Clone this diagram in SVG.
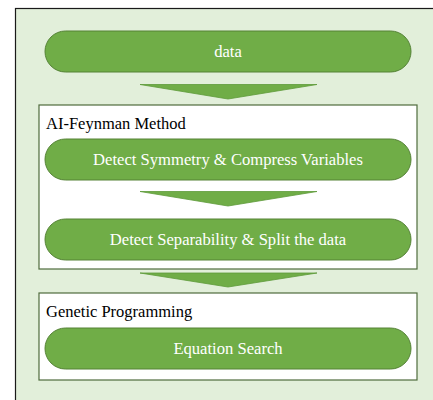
<svg xmlns="http://www.w3.org/2000/svg" width="433" height="400" viewBox="0 0 433 400">
<style>
.pill{fill:#70ad47;stroke:#548235;stroke-width:1}
.ptext{fill:#ffffff;font-family:"Liberation Serif",serif;font-size:16.6px;text-anchor:middle}
.box{fill:#ffffff;stroke:#4f6b3c;stroke-width:1.2}
.title{fill:#000000;font-family:"Liberation Serif",serif;font-size:16.5px}
.arrow{fill:#70ad47;stroke:#5e9a3a;stroke-width:0.8}
</style>
<rect x="15.5" y="8.5" width="430" height="400" fill="#e2efda" stroke="#1a1a1a" stroke-width="1.2"/>
<g id="data">
<rect class="pill" x="45" y="31" width="366" height="41" rx="20.5"/>
<text class="ptext" x="228" y="57">data</text>
</g>
<g id="ai-feynman">
<rect class="box" x="39" y="105" width="378" height="164"/>
<text class="title" x="46" y="129">AI-Feynman Method</text>
</g>
<g id="symmetry">
<rect class="pill" x="45" y="139" width="366" height="41" rx="20.5"/>
<text class="ptext" x="228" y="165">Detect Symmetry &amp; Compress Variables</text>
</g>
<g id="separability">
<rect class="pill" x="45" y="219" width="366" height="41" rx="20.5"/>
<text class="ptext" x="228" y="245">Detect Separability &amp; Split the data</text>
</g>
<g id="genetic">
<rect class="box" x="39" y="293" width="378" height="87"/>
<text class="title" x="46" y="317">Genetic Programming</text>
</g>
<g id="equation">
<rect class="pill" x="45" y="328" width="366" height="41" rx="20.5"/>
<text class="ptext" x="228" y="354">Equation Search</text>
</g>
<g id="connectors">
<polygon class="arrow" points="140,84.5 317,84.5 228,99"/>
<polygon class="arrow" points="140,191.5 317,191.5 228,206"/>
<polygon class="arrow" points="140,273 317,273 228,287"/>
</g>
</svg>
